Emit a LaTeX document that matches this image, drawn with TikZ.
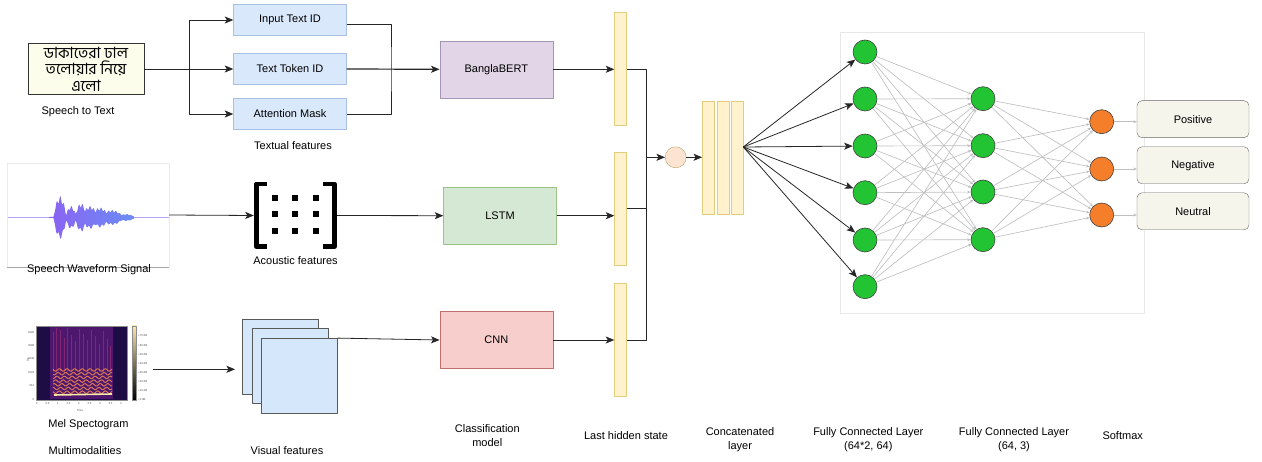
\documentclass[tikz,border=0pt]{standalone}
\usepackage{fontspec}
\setmainfont{Liberation Sans}
\newfontfamily\bnfont[Script=Bengali]{Hind Siliguri}
\usepackage{tikz}
\usetikzlibrary{arrows.meta}
\usepackage{xcolor}

\definecolor{featblue}{HTML}{DAE8FC}
\definecolor{featline}{HTML}{A9C0E6}
\definecolor{bertfill}{HTML}{E1D5E7}
\definecolor{bertline}{HTML}{A595B5}
\definecolor{lstmfill}{HTML}{D5E8D4}
\definecolor{lstmline}{HTML}{9CC28A}
\definecolor{cnnfill}{HTML}{F8CECC}
\definecolor{cnnline}{HTML}{C0706C}
\definecolor{hidfill}{HTML}{FFF2CC}
\definecolor{hidline}{HTML}{E3CD7A}
\definecolor{peach}{HTML}{FCE3D2}
\definecolor{bnfill}{HTML}{FDFDEC}
\definecolor{outfill}{HTML}{F6F5EC}
\definecolor{nngreen}{HTML}{22C433}
\definecolor{nnorange}{HTML}{F47E2A}
\definecolor{visfill}{HTML}{D4E7FB}
\definecolor{wavea}{HTML}{8A63F2}
\definecolor{waveb}{HTML}{6C8CF6}
\definecolor{magbg}{HTML}{1E0C45}
\definecolor{magmid}{HTML}{5D1B7C}
\definecolor{magpink}{HTML}{C13A74}
\definecolor{magorange}{HTML}{F98E4F}
\definecolor{magyellow}{HTML}{FCE8A6}

\begin{document}
\begin{tikzpicture}[x=1pt,y=-1pt,>={Stealth[length=8.5pt,width=7pt,inset=2pt]},
  font=\fontsize{11}{14}\selectfont,line join=round,
  feat/.style={draw=featline,fill=featblue,minimum width=113pt,minimum height=31pt,inner sep=0pt},
  model/.style={minimum width=113pt,minimum height=57pt,inner sep=0pt},
  hid/.style={draw=hidline,fill=hidfill,minimum width=12pt,minimum height=113pt,inner sep=0pt},
  neuron/.style={circle,minimum size=24pt,inner sep=0pt,draw=black!75,line width=0.6pt},
  outbox/.style={draw=black!60,fill=outfill,rounded corners=5pt,minimum width=112pt,minimum height=37pt},
  visq/.style={draw=black!65,fill=visfill,minimum width=76pt,minimum height=75pt,inner sep=0pt},
  link/.style={draw=black!85,line width=0.8pt},
  faint/.style={draw=black!25,line width=0.65pt,-{Stealth[length=3.5pt,width=3pt]}},
  tick/.style={font=\fontsize{2.8}{3}\selectfont,inner sep=0.5pt,text=black!70}]
\useasboundingbox (0,0) rectangle (1262,462);

% text branch
\node[draw=black!80,fill=bnfill,minimum width=116pt,minimum height=51pt,inner sep=0pt,align=center,
  font=\bnfont\fontsize{15.5}{16.5}\selectfont] (bn) at (86,69) {ডাকাতেরা ঢাল\\তলোয়ার নিয়ে\\এলো};
\node (s2t) at (78,112) {Speech to Text};
\node[feat] (tid) at (290,20) {Input Text ID};
\node[feat] (tok) at (290,69) {Text Token ID};
\node[feat] (att) at (290,114) {Attention Mask};
\node (txtlbl) at (293,146) {Textual features};
\coordinate (split) at (189,69);
\coordinate (merge) at (391,69);
\draw[link,->] (bn.east) -- (tok.west);
\draw[link,->] (split) |- (tid.west);
\draw[link,->] (split) |- (att.west);
\draw[link] ([yshift=-4pt]tid.east) -| (merge) |- (att.east);

% waveform
\node[draw=black!8,minimum width=162pt,minimum height=104pt,inner sep=0pt] (wavebox) at (88,215) {};
\draw[black!35,line width=0.5pt] (wavebox.south west) -- (wavebox.south east);
\draw[wavea!60,line width=0.7pt] (8,217.5) -- (169,217.5);
\begin{scope}
\tikzset{declare function={bump(\t,\c,\w)=max(0,1-((\t-\c)/\w)^2);
  env(\t)=max(21*bump(\t,60,6.5),11*bump(\t,71,5.5),14*bump(\t,81,6),
    11*bump(\t,90,8),9.5*bump(\t,100,9),7*bump(\t,112,12),3*bump(\t,126,9));}}
\shade[left color=wavea,right color=waveb]
  plot[domain=49:134,samples=200] (\x,{217.5-env(\x)*(0.84+0.16*sin(\x*97))-0.5})
  -- plot[domain=134:49,samples=200] (\x,{217.5+env(\x)*(0.86+0.14*cos(\x*83))+0.5}) -- cycle;
\end{scope}
\node (wavelbl) at (89,269.5) {Speech Waveform Signal};

% acoustic matrix
\node[minimum width=83pt,minimum height=68pt,inner sep=0pt] (acou) at (295.5,215.5) {};
\draw[line width=4.5pt] (266.7,184) -- (256.3,184) -- (256.3,246.7) -- (266.7,246.7);
\draw[line width=4.5pt] (323.3,184) -- (334.4,184) -- (334.4,246.7) -- (323.3,246.7);
\foreach \x in {275,295,316}
  \foreach \y in {198,214.5,231.5}
    \fill (\x-3,\y-3) rectangle ++(6,6);
\node (acoulbl) at (295.5,261) {Acoustic features};
\draw[link,->] (wavebox.east) -- (acou.west);

% mel spectrogram
\fill[magbg] (36,326) rectangle (127,400);
\fill[magmid,opacity=.75] (50,327) rectangle (113,399);
\foreach \x/\t in {53/332,56/328,60/330,64/338,67/328,71/335,75/341,79/329,83/334,
                   87/340,91/330,95/336,99/344,103/331,107/339,110/346}
  \fill[magpink,opacity=.45] (\x,\t) rectangle (\x+1.3,372);
\foreach \k in {0,...,6}
  \draw[magorange,line width=1pt,opacity=.8]
    plot[domain=53:112,samples=45] (\x,{370+3.7*\k+1.3*sin(47*\x+60*\k)});
\draw[magyellow,line width=1.6pt] (54,395) -- (112,394);
\draw[black!45,line width=0.3pt] (36,326) rectangle (127,400);
\shade[top color=magyellow,middle color=magpink,bottom color=black] (132,326) rectangle (136,400);
\draw[black!45,line width=0.3pt] (132,326) rectangle (136,400);
\foreach \v [count=\i from 0] in {+70,+60,+50,+40,+30,+20,+10,+0}
  \node[tick,anchor=west] (cb\i) at (137.5,{336+9.1*\i}) {\v\ dB};
\foreach \v/\y in {8192/333,4096/346,2048/359,1024/373,512/386,0/400}
  \node[tick,anchor=east] (hz\v) at (35,\y) {\v};
\foreach \v [count=\i from 0] in {0,0.5,1,1.5,2,2.5,3,3.5,4}
  \node[tick,anchor=north] (tx\i) at ({37+10.5*\i},402) {\v};
\node[tick] (timelbl) at (80,410) {Time};
\node[tick,rotate=90] (hzlbl) at (28,360) {Hz};
\node (mellbl) at (88.5,424.5) {Mel Spectogram};
\node (multi) at (85,451) {Multimodalities};

% visual feature maps
\node[visq] (vis1) at (280.5,357) {};
\node[visq] (vis2) at (290.3,366) {};
\node[visq] (vis3) at (299.5,375.8) {};
\node (vislbl) at (287,451) {Visual features};
\coordinate (melout) at (153,369.3);
\coordinate (visin) at (235,369.3);
\draw[link,->] (melout) -- (visin);

% classification models
\node[model,draw=bertline,fill=bertfill] (bert) at (496.3,69.3) {BanglaBERT};
\node[model,draw=lstmline,fill=lstmfill] (lstm) at (500,215.7) {LSTM};
\node[model,draw=cnnline,fill=cnnfill] (cnn) at (496.3,340) {CNN};
\draw[link,->,line width=1.2pt] (tok.east) -- (bert.west);
\draw[link,->] (acou.east) -- (lstm.west);
\draw[link,->] (vis3.north east) -- (cnn.west);

% last hidden states
\node[hid] (h1) at (620.5,69.2) {};
\node[hid] (h2) at (620.5,208.5) {};
\node[hid] (h3) at (620.5,340) {};
\draw[link,->] (bert.east) -- (bert.east -| h1.west);
\draw[link,->] (lstm.east) -- (lstm.east -| h2.west);
\draw[link,->] (cnn.east) -- (cnn.east -| h3.west);
\coordinate (join) at (646,157.3);
\draw[link] (h1.east) -| (join);
\draw[link] (h2.east) -| (join);
\draw[link] (h3.east) -| (join);

% fusion and concatenation
\node[circle,draw=hidline!80!black,fill=peach,minimum size=21pt,inner sep=0pt] (fuse) at (675.7,157.3) {};
\draw[link,->] (join) -- (fuse);
\node[hid] (c1) at (708.3,157.3) {};
\node[hid] (c2) at (723.3,157.3) {};
\node[hid] (c3) at (737.5,157.3) {};
\draw[link,->] (fuse) -- (c1);

% dense layers
\draw[black!9] (840,32) rectangle (1144,313);
\foreach \y [count=\i] in {52,99,146,192.7,240,286.7}
  \node[neuron,fill=nngreen] (a\i) at (865,\y) {};
\foreach \y [count=\i] in {98.7,145.7,192,239.7}
  \node[neuron,fill=nngreen] (b\i) at (983,\y) {};
\foreach \y [count=\i] in {121.7,169,215}
  \node[neuron,fill=nnorange] (o\i) at (1101.7,\y) {};
\foreach \i in {1,...,6}
  \foreach \j in {1,...,4}
    \draw[faint] (a\i) -- (b\j);
\foreach \j in {1,...,4}
  \foreach \k in {1,2,3}
    \draw[faint] (b\j) -- (o\k);
\coordinate (fan) at (743.3,147);
\foreach \i in {1,...,6}
  \draw[link,->] (fan) -- (a\i);

% softmax outputs
\node[outbox] (pos) at (1193,119.2) {Positive};
\node[outbox] (neg) at (1193,165.3) {Negative};
\node[outbox] (neu) at (1193,211.3) {Neutral};
\draw[faint] (o1.east) -- (o1.east -| pos.west);
\draw[faint] (o2.east) -- (o2.east -| neg.west);
\draw[faint] (o3.east) -- (o3.east -| neu.west);

% captions
\node[align=center] (clslbl) at (487.3,436) {Classification\\model};
\node (hidlbl) at (626,435.7) {Last hidden state};
\node[align=center] (catlbl) at (740,440) {Concatenated\\layer};
\node[align=center] (fc1lbl) at (868.3,440) {Fully Connected Layer\\(64*2, 64)};
\node[align=center] (fc2lbl) at (1014,440) {Fully Connected Layer\\(64, 3)};
\node (smlbl) at (1122.7,436) {Softmax};
\end{tikzpicture}
\end{document}
